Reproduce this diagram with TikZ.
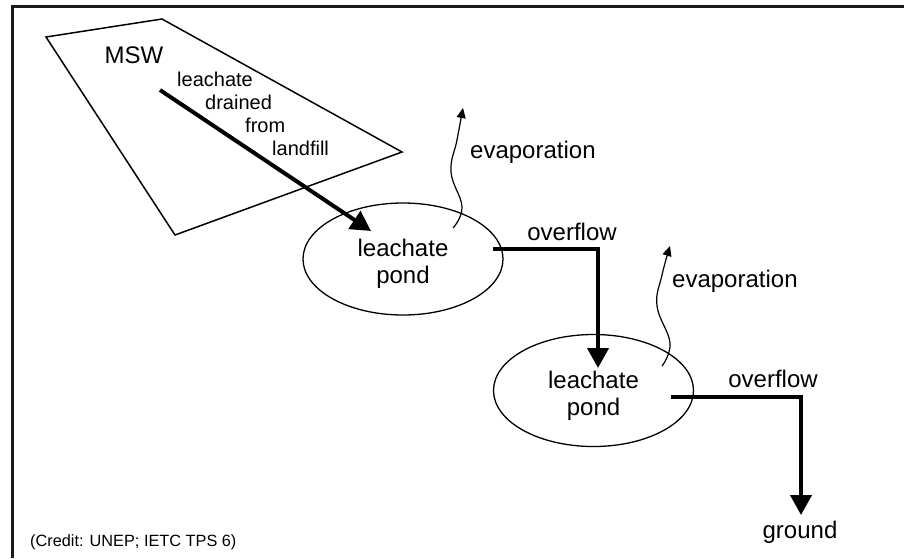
\documentclass[tikz,border=0pt]{standalone}
\usepackage{fontspec}
\setmainfont{Liberation Sans}
\usetikzlibrary{arrows.meta,shapes.geometric}
\begin{document}
\begin{tikzpicture}[x=1pt,y=-1pt,
  frameline/.style={line width=3pt, color=black!90},
  outline/.style={line width=1.5pt},
  pond/.style={draw, ellipse, line width=1.3pt, minimum width=200pt, minimum height=112pt, inner sep=0pt},
  bigtxt/.style={font=\fontsize{24}{27}\selectfont, inner sep=0pt, align=center},
  smalltxt/.style={font=\fontsize{20}{22.7}\selectfont, inner sep=0pt, align=left},
  credittxt/.style={font=\fontsize{16.3}{19}\selectfont, inner sep=0pt},
  flow/.style={line width=4pt, -{Triangle[length=20pt,width=21pt]}},
  vapour/.style={line width=1.2pt, -{Triangle[length=10pt,width=9pt]}}
]
\useasboundingbox (0,0) rectangle (904,558);
% frame
\draw[frameline] (904,6.5) -- (12.5,6.5) -- (12.5,558);
% landfill polygon
\coordinate (l1) at (46,37);
\coordinate (l2) at (162,19);
\coordinate (l3) at (402,152);
\coordinate (l4) at (175,235);
\draw[outline, line join=miter] (l1) -- (l2) -- (l3) -- (l4) -- cycle;
\node[bigtxt, anchor=base] (msw) at (134,63) {MSW};
\node[smalltxt, anchor=base west] (drain) at (177,155)
  {leachate\\\hspace*{28pt}drained\\\hspace*{68pt}from\\\hspace*{95pt}landfill};
% ponds
\node[pond] (p1) at (403,259) {};
\node[bigtxt] (t1) at (403,264) {leachate\\pond};
\node[pond] (p2) at (593.5,390.5) {};
\node[bigtxt] (t2) at (593.5,396) {leachate\\pond};
% leachate drain arrow
\coordinate (d0) at (160,90);
\coordinate (d1) at (371,231);
\draw[flow] (d0) -- (d1);
% overflow 1
\coordinate (o1s) at (493,249);
\coordinate (o1c) at (598,249);
\coordinate (o1e) at (598,368);
\draw[flow] (o1s) -- (o1c) -- (o1e);
\node[bigtxt, anchor=base] (ov1) at (572,240) {overflow};
% overflow 2
\coordinate (o2s) at (671,397);
\coordinate (o2c) at (801,397);
\coordinate (o2e) at (801,515);
\draw[flow] (o2s) -- (o2c) -- (o2e);
\node[bigtxt, anchor=base] (ov2) at (773,387) {overflow};
\node[bigtxt, anchor=base] (gr) at (800,538) {ground};
% evaporation
\draw[vapour] plot[smooth, tension=0.7] coordinates {(453,228) (462,207) (451,172) (457,140) (463,108)};
\node[bigtxt, anchor=base west] (ev1) at (470,158) {evaporation};
\draw[vapour] plot[smooth, tension=0.7] coordinates {(662,366) (670,343) (657,306) (662,275) (670,246)};
\node[bigtxt, anchor=base west] (ev2) at (672,287) {evaporation};
% credit
\node[credittxt, anchor=base west] (cr) at (30,546) {(Credit: UNEP; IETC TPS 6)};
\end{tikzpicture}
\end{document}
